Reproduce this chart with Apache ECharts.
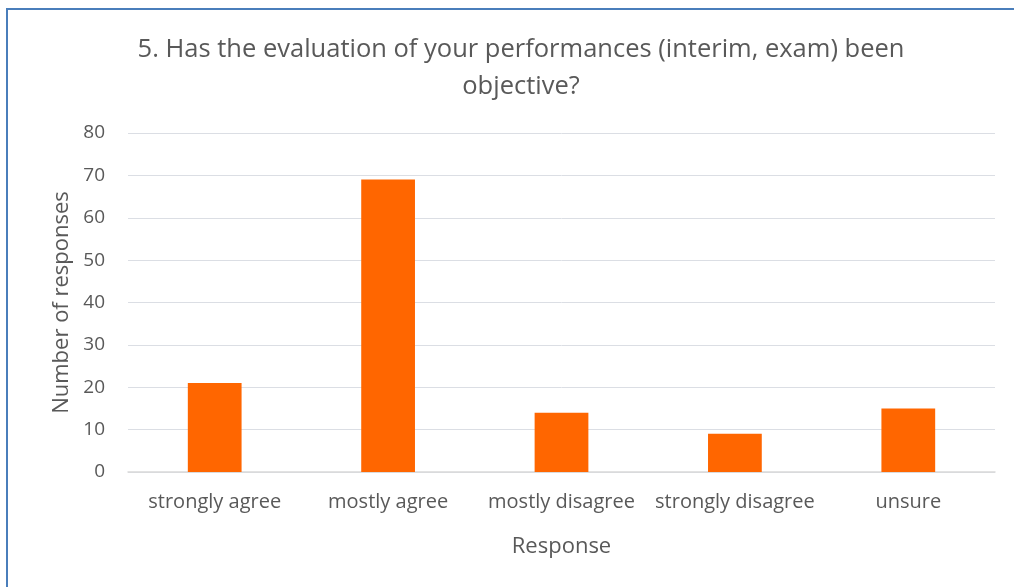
<!DOCTYPE html>
<html><head><meta charset="utf-8">
<script src="https://cdn.jsdelivr.net/npm/echarts@6/dist/echarts.min.js"></script>
<style>
html,body{margin:0;padding:0;background:#fff;}
#frame{position:absolute;left:6px;top:8px;width:1008px;height:579px;border-left:2px solid #4a7ebb;border-top:2px solid #4a7ebb;}
#c{position:absolute;left:0;top:0;width:1014px;height:587px;}
</style></head><body>
<div id="frame"></div>
<div id="c"></div>
<script>
var titleText = '5. Has the evaluation of your performances (interim, exam) been\nobjective?';
var categories = ['strongly agree','mostly agree','mostly disagree','strongly disagree','unsure'];
var values = [21, 69, 14, 9, 15];
var yTicks = {min:0, max:80, interval:10};
var xName = 'Response';
var yName = 'Number of responses';
var font = 'Open Sans, Noto Sans, sans-serif';
var chart = echarts.init(document.getElementById('c'));
chart.setOption({
  animation:false,
  title:{text:titleText, left:516, top:26, textAlign:'center',
    textStyle:{fontFamily:font, fontSize:25.5, fontWeight:'normal', color:'#595959', lineHeight:37}},
  grid:{left:128, right:19, top:133, bottom:115, containLabel:false},
  xAxis:{type:'category', data:categories, name:xName, nameLocation:'middle', nameGap:64,
    nameTextStyle:{fontFamily:font, fontSize:22, color:'#595959'},
    axisLine:{lineStyle:{color:'#d9d9d9', width:1.5}}, axisTick:{show:false},
    axisLabel:{interval:0, fontFamily:font, fontSize:20, color:'#595959', margin:20}},
  yAxis:{type:'value', min:yTicks.min, max:yTicks.max, interval:yTicks.interval,
    name:yName, nameLocation:'middle', nameGap:55, nameRotate:90,
    nameTextStyle:{fontFamily:font, fontSize:22, color:'#595959'},
    axisLine:{show:false}, axisTick:{show:false},
    axisLabel:{fontFamily:font, fontSize:19, color:'#595959', margin:23}},
  series:[{type:'bar', data:values, barWidth:'31%', itemStyle:{color:'#ff6600'}}]
});
</script>
</body></html>
